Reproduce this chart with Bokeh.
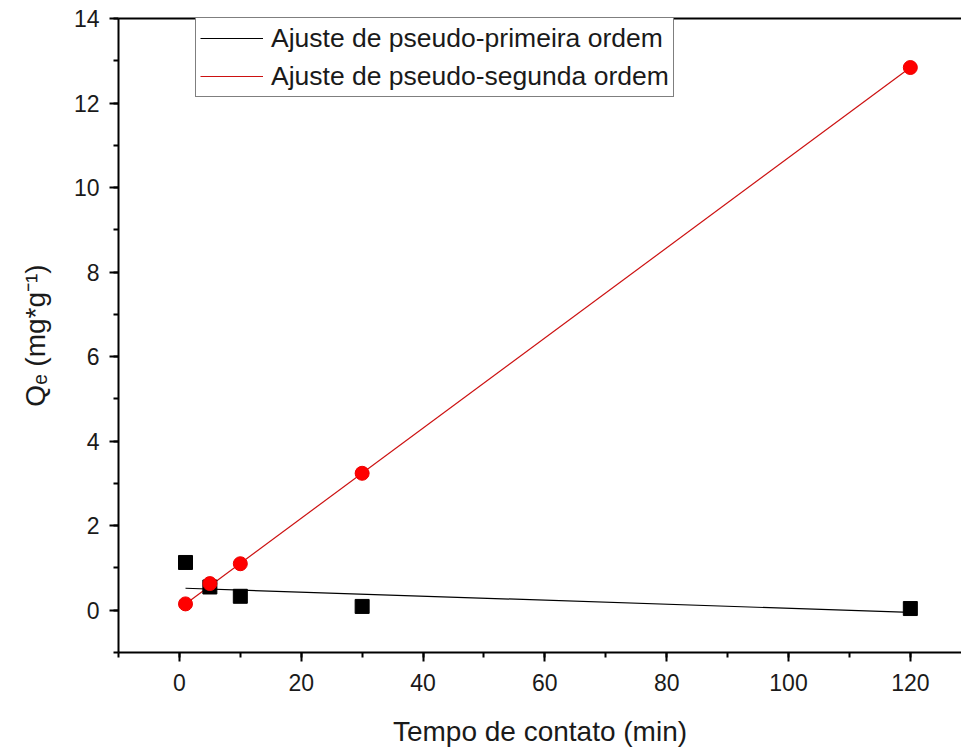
from bokeh.plotting import figure
from bokeh.models import (LinearAxis, FixedTicker, Legend, LegendItem, Range1d,
                          SingleIntervalTicker)
from bokeh.embed import file_html
from bokeh.resources import INLINE

# ---- data ----
time_min = [1, 5, 10, 30, 120]
qe_first = [1.13, 0.55, 0.33, 0.09, 0.04]      # black squares
qe_second = [0.15, 0.63, 1.10, 3.24, 12.84]    # red circles
fit_x = [1, 120]
fit_first = [0.52, -0.05]                      # pseudo-first order fit line
fit_second = [0.15, 12.84]                     # pseudo-second order fit line
legend_labels = ["Ajuste de pseudo-primeira ordem", "Ajuste de pseudo-segunda ordem"]

FONT = "Liberation Sans"

p = figure(width=961, height=755, output_backend="svg", toolbar_location=None,
           x_range=Range1d(-10, 128.4), y_range=Range1d(-1, 14),
           min_border_left=118, min_border_right=0, min_border_top=18,
           min_border_bottom=103, x_axis_type=None, y_axis_type=None)
p.outline_line_color = None
p.xgrid.visible = False
p.ygrid.visible = False
p.background_fill_color = "white"
p.border_fill_color = "white"

xaxis = LinearAxis(ticker=SingleIntervalTicker(interval=20, num_minor_ticks=2),
                   axis_label="Tempo de contato (min)")
yaxis = LinearAxis(ticker=SingleIntervalTicker(interval=2, num_minor_ticks=2),
                   axis_label="Q\u2091 (mg*g\u207b\u00b9)")
for ax in (xaxis, yaxis):
    ax.axis_line_width = 2
    ax.axis_line_color = "black"
    ax.major_tick_line_width = 2
    ax.minor_tick_line_width = 2
    ax.major_tick_out = 9
    ax.major_tick_in = 0
    ax.minor_tick_out = 5
    ax.minor_tick_in = 0
    ax.major_label_text_font = FONT
    ax.major_label_text_font_size = "23px"
    ax.major_label_text_color = "#1a1a1a"
    ax.axis_label_text_font = FONT
    ax.axis_label_text_font_style = "normal"
    ax.axis_label_text_color = "#1a1a1a"
xaxis.major_label_standoff = 12
xaxis.axis_label_text_font_size = "28px"
xaxis.axis_label_standoff = 22
yaxis.major_label_standoff = 10
yaxis.axis_label_text_font_size = "28px"
yaxis.axis_label_standoff = 20
p.add_layout(xaxis, "below")
p.add_layout(yaxis, "left")

top = LinearAxis(ticker=FixedTicker(ticks=[]), major_label_text_font_size="0px",
                 axis_line_width=2, axis_line_color="black",
                 major_tick_out=0, minor_tick_out=0)
p.add_layout(top, "above")

l1 = p.line(fit_x, fit_first, line_color="black", line_width=1.2)
l2 = p.line(fit_x, fit_second, line_color="#cc1111", line_width=1.2)
p.scatter(time_min, qe_first, marker="square", size=14, fill_color="black",
          line_color="black")
p.scatter(time_min, qe_second, marker="circle", size=14, fill_color="#ff0000",
          line_color="#ee0000")

legend = Legend(items=[LegendItem(label=legend_labels[0], renderers=[l1]),
                       LegendItem(label=legend_labels[1], renderers=[l2])],
                location=(77, 555))
legend.label_text_font = FONT
legend.label_text_font_size = "26.5px"
legend.label_text_color = "#1a1a1a"
legend.glyph_width = 63
legend.glyph_height = 32
legend.label_height = 32
legend.spacing = 6
legend.padding = 4
legend.margin = 0
legend.label_standoff = 8
legend.border_line_color = "black"
legend.border_line_width = 1
legend.background_fill_color = "white"
legend.background_fill_alpha = 1
p.add_layout(legend, "center")

open("out.html", "w").write(file_html(p, INLINE))
